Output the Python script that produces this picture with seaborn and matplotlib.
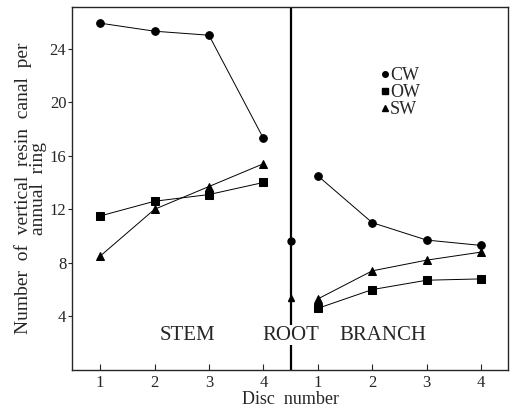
import numpy as np
import pandas as pd
import matplotlib
matplotlib.use("Agg")
import matplotlib.pyplot as plt
import seaborn as sns
from matplotlib.lines import Line2D

# Data
discs = [1, 2, 3, 4]
stem_cw = [25.9, 25.3, 25.0, 17.3]
stem_ow = [11.5, 12.6, 13.1, 14.0]
stem_sw = [8.5, 12.0, 13.7, 15.4]
root_cw = 9.6
root_sw = 5.4
branch_cw = [14.5, 11.0, 9.7, 9.3]
branch_ow = [4.6, 6.0, 6.7, 6.8]
branch_sw = [5.3, 7.4, 8.2, 8.8]
tick_labels = ["1", "2", "3", "4", "1", "2", "3", "4"]

rows = []
for wood, vals in [("CW", stem_cw), ("OW", stem_ow), ("SW", stem_sw)]:
    for d, v in zip(discs, vals):
        rows.append({"part": "STEM", "wood": wood, "pos": d, "value": v})
for wood, vals in [("CW", branch_cw), ("OW", branch_ow), ("SW", branch_sw)]:
    for d, v in zip(discs, vals):
        rows.append({"part": "BRANCH", "wood": wood, "pos": d + 4, "value": v})
df = pd.DataFrame(rows)
root_df = pd.DataFrame({"wood": ["CW", "SW"], "pos": [4.5, 4.5], "value": [root_cw, root_sw]})

sns.set_style("ticks")
plt.rcParams["font.family"] = ["Liberation Serif", "DejaVu Serif"]

fig = plt.figure(figsize=(5.17, 4.18), dpi=100)
ax = fig.add_axes([0.139, 0.115, 0.844, 0.868])

markers = {"CW": "o", "OW": "s", "SW": "^"}
for part in ["STEM", "BRANCH"]:
    for wood in ["CW", "OW", "SW"]:
        sub = df[(df.part == part) & (df.wood == wood)]
        sns.lineplot(data=sub, x="pos", y="value", ax=ax, color="black",
                     linewidth=0.7, marker=markers[wood], markersize=5.5,
                     markeredgecolor="black", legend=False)

ax.axvline(4.5, color="black", linewidth=1.6)
for _, r in root_df.iterrows():
    ax.plot(r["pos"], r["value"], marker=markers[r["wood"]], color="black",
            markersize=5, linestyle="none")

ax.set_xlim(0.48, 8.5)
ax.set_ylim(0, 27.1)
ax.set_xticks([1, 2, 3, 4, 5, 6, 7, 8])
ax.set_xticklabels(tick_labels)
ax.set_yticks([4, 8, 12, 16, 20, 24])
ax.tick_params(axis="x", direction="in", length=4, labelsize=12, pad=4)
ax.tick_params(axis="y", direction="out", length=3, labelsize=12, pad=1)
for s in ax.spines.values():
    s.set_linewidth(1.0)
    s.set_visible(True)

ax.set_xlabel("Disc  number", fontsize=13, labelpad=0)
ax.set_ylabel("Number  of  vertical  resin  canal  per\nannual  ring", fontsize=14,
              linespacing=0.85, labelpad=2)

ax.text(2.6, 2.6, "STEM", ha="center", va="center", fontsize=15)
ax.text(4.5, 2.6, "ROOT", ha="center", va="center", fontsize=15,
        bbox=dict(facecolor="white", edgecolor="none", pad=0.5))
ax.text(6.2, 2.6, "BRANCH", ha="center", va="center", fontsize=15)

handles = [Line2D([], [], marker=markers[w], color="black", linestyle="none",
                  markersize=4, label=w) for w in ["CW", "OW", "SW"]]
ax.legend(handles=handles, frameon=False, loc="upper left",
          bbox_to_anchor=(0.69, 0.86), handlelength=0.3, handletextpad=0.15,
          labelspacing=0.0, fontsize=13, borderpad=0)

fig.savefig("out.png", dpi=100)
